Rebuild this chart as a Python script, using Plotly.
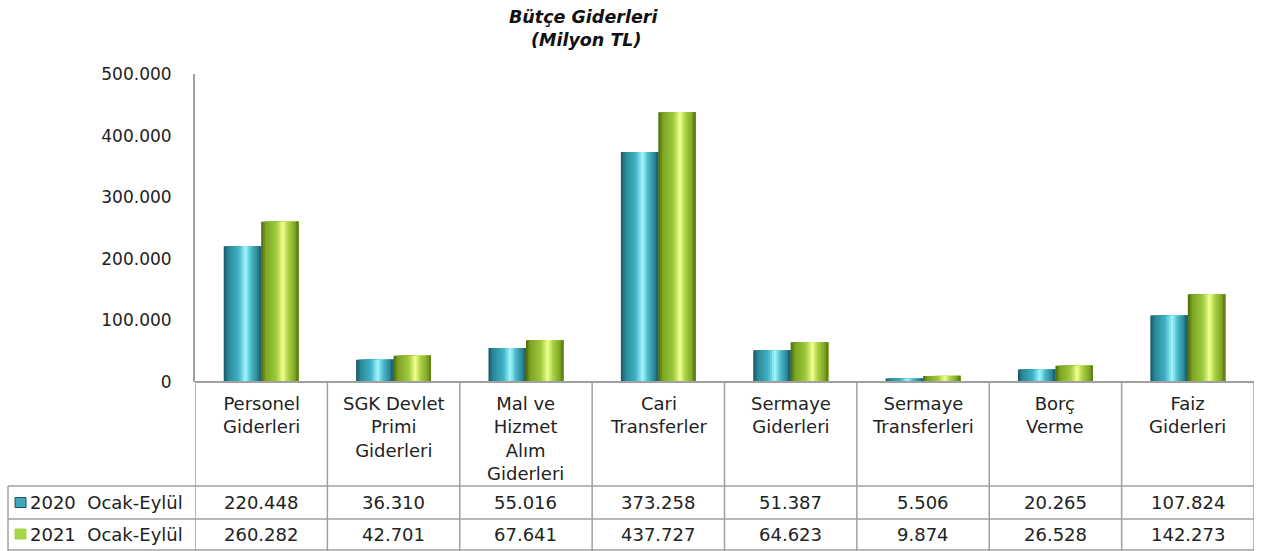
import plotly.graph_objects as go

categories = ["Personel<br>Giderleri", "SGK Devlet<br>Primi<br>Giderleri", "Mal ve<br>Hizmet<br>Alım<br>Giderleri",
              "Cari<br>Transferler", "Sermaye<br>Giderleri", "Sermaye<br>Transferleri", "Borç<br>Verme", "Faiz<br>Giderleri"]
series_names = ["2020  Ocak-Eylül", "2021  Ocak-Eylül"]
values_2020 = [220448, 36310, 55016, 373258, 51387, 5506, 20265, 107824]
values_2021 = [260282, 42701, 67641, 437727, 64623, 9874, 26528, 142273]
y_ticks = [0, 100000, 200000, 300000, 400000, 500000]

W, H = 1267, 551
L, R, T, B = 195, 1254, 74, 382
FONT = "DejaVu Sans"

def px_x(px):
    return (px - L) / (R - L)

def px_y(py):
    return (B - py) / (B - T)

def hex2rgb(h):
    h = h.lstrip('#')
    return tuple(int(h[i:i + 2], 16) for i in (0, 2, 4))

def interp(stops, t):
    for (t0, c0), (t1, c1) in zip(stops, stops[1:]):
        if t0 <= t <= t1:
            f = (t - t0) / (t1 - t0) if t1 > t0 else 0
            a, b = hex2rgb(c0), hex2rgb(c1)
            return "rgb(%d,%d,%d)" % tuple(round(a[k] + (b[k] - a[k]) * f) for k in range(3))
    return stops[-1][1]

teal = [(0, "#1a5460"), (0.12, "#2a8898"), (0.4, "#40b3c6"), (0.58, "#a4f6ff"),
        (0.72, "#4cbccd"), (0.9, "#2b8694"), (1, "#1f5a66")]
green = [(0, "#4b660c"), (0.12, "#7da423"), (0.4, "#9dca3b"), (0.58, "#f2ff90"),
         (0.72, "#a8d244"), (0.9, "#80a626"), (1, "#5a7815")]

fig = go.Figure()
xs = list(range(len(categories)))
bw = 0.283
N = 20
for vals, stops, base in [(values_2020, teal, -bw), (values_2021, green, 0.0)]:
    sw = bw / N
    for i in range(N):
        t = (i + 0.5) / N
        fig.add_trace(go.Bar(x=xs, y=vals, offset=base + i * sw, width=bw - i * sw,
                             marker=dict(color=interp(stops, t), line=dict(width=0)),
                             showlegend=False, hoverinfo="skip"))

fig.update_layout(
    width=W, height=H, barmode="overlay", separators=",.",
    margin=dict(l=L, r=W - R, t=T, b=H - B),
    paper_bgcolor="white", plot_bgcolor="white",
    font=dict(family=FONT, size=17, color="#222"),
    xaxis=dict(range=[-0.5, len(categories) - 0.5], showticklabels=False, showgrid=False,
               zeroline=False, showline=False),
    yaxis=dict(range=[0, 500000], tickvals=y_ticks, tickformat=",d", showgrid=False, zeroline=False,
               showline=True, linecolor="#a0a0a0", linewidth=2, ticks="", ticklabelstandoff=18,
               tickfont=dict(family=FONT, size=17, color="#222")),
)

shapes = []
ann = []
line_col = "#a0a0a0"
shapes.append(dict(type="line", xref="paper", yref="paper", x0=0, x1=1, y0=0, y1=0,
                   line=dict(color=line_col, width=2)))
for i in range(len(categories) + 1):
    shapes.append(dict(type="line", xref="x", yref="paper", x0=i - 0.5, x1=i - 0.5,
                       y0=px_y(382), y1=px_y(551), line=dict(color=line_col, width=1.5)))
shapes.append(dict(type="line", xref="paper", yref="paper", x0=px_x(8), x1=px_x(8),
                   y0=px_y(486), y1=px_y(551), line=dict(color=line_col, width=1.5)))
for py in [486, 519, 550]:
    shapes.append(dict(type="line", xref="paper", yref="paper", x0=px_x(8), x1=1,
                       y0=px_y(py), y1=px_y(py), line=dict(color=line_col, width=1.5)))

for i, c in enumerate(categories):
    ann.append(dict(x=i, xref="x", y=px_y(391), yref="paper", text=c, showarrow=False,
                    yanchor="top", xanchor="center", align="center",
                    font=dict(family=FONT, size=18, color="#222")))

def fmt(v):
    return f"{v:,}".replace(",", ".")

rows = [(values_2020, 502.5, "#3ea6b8", "#1c5460"), (values_2021, 534, "#a5d648", "#a5d648")]
for (vals, cy, col, edge), name in zip(rows, series_names):
    for i, v in enumerate(vals):
        ann.append(dict(x=i, xref="x", y=px_y(cy), yref="paper", text=fmt(v), showarrow=False,
                        xanchor="center", yanchor="middle",
                        font=dict(family=FONT, size=18, color="#222")))
    shapes.append(dict(type="rect", xref="paper", yref="paper", x0=px_x(15), x1=px_x(26),
                       y0=px_y(cy - 5), y1=px_y(cy + 5), fillcolor=col,
                       line=dict(color=edge, width=1)))
    ann.append(dict(x=px_x(28), xref="paper", y=px_y(cy), yref="paper", text=name.replace("  ", "&nbsp; "),
                    showarrow=False, xanchor="left", yanchor="middle",
                    font=dict(family=FONT, size=18, color="#222")))

ann.append(dict(x=px_x(583), xref="paper", y=px_y(17), yref="paper", text="<b><i>Bütçe Giderleri</i></b>",
                showarrow=False, xanchor="center", yanchor="middle",
                font=dict(family=FONT, size=17.5, color="#111")))
ann.append(dict(x=px_x(586), xref="paper", y=px_y(40), yref="paper", text="<b><i>(Milyon TL)</i></b>",
                showarrow=False, xanchor="center", yanchor="middle",
                font=dict(family=FONT, size=17.5, color="#111")))

fig.update_layout(shapes=shapes, annotations=ann)
fig.write_html("out.html", config={"displayModeBar": False},
               post_script="document.body.style.margin='0px';document.body.style.overflow='hidden';")
